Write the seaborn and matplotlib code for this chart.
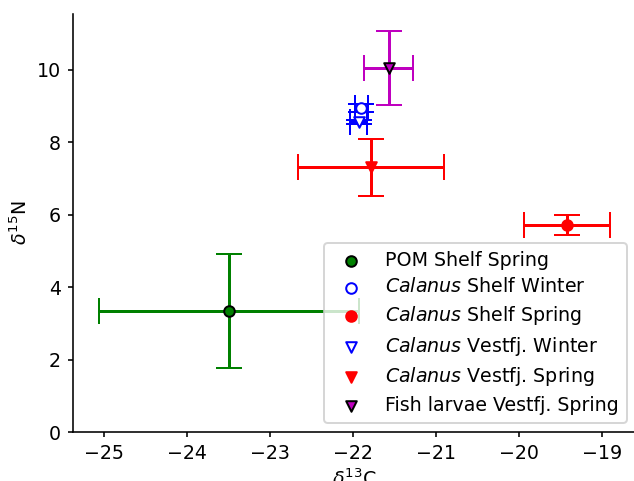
import matplotlib
matplotlib.use("Agg")
import matplotlib.pyplot as plt
import seaborn as sns
import pandas as pd

# Mean stable isotope values (δ13C, δ15N) with standard deviations
groups = [
    r"POM Shelf Spring",
    r"$\it{Calanus}$ Shelf Winter",
    r"$\it{Calanus}$ Shelf Spring",
    r"$\it{Calanus}$ Vestfj. Winter",
    r"$\it{Calanus}$ Vestfj. Spring",
    r"Fish larvae Vestfj. Spring",
]
d13c = [-23.49, -21.90, -19.42, -21.93, -21.78, -21.57]
d15n = [3.34, 8.95, 5.72, 8.57, 7.31, 10.05]
d13c_sd = [1.57, 0.08, 0.52, 0.10, 0.88, 0.30]
d15n_sd = [1.57, 0.10, 0.27, 0.06, 0.79, 1.03]

colors = ["g", "b", "r", "b", "r", "m"]
markers = ["o", "o", "o", "v", "v", "v"]
faces = ["g", "white", "r", "white", "r", "m"]
edges = ["k", "b", "r", "b", "r", "k"]

df = pd.DataFrame({"group": groups, "d13C": d13c, "d15N": d15n,
                   "sd13C": d13c_sd, "sd15N": d15n_sd})

plt.rcParams["font.family"] = ["DejaVu Sans"]
fs = 9.5
fig = plt.figure(figsize=(634 / 144, 481 / 144), dpi=144)
ax = fig.add_axes([73 / 634, 49 / 481, 563 / 634, 418 / 481])

for i, row in df.iterrows():
    ax.errorbar(row["d13C"], row["d15N"], xerr=row["sd13C"], yerr=row["sd15N"],
                fmt="none", ecolor=colors[i], elinewidth=1.5, capsize=6.5)
    sns.scatterplot(x=[row["d13C"]], y=[row["d15N"]], ax=ax, marker=markers[i],
                    s=28, color=faces[i], edgecolor=edges[i], linewidth=1,
                    label=row["group"], zorder=3)

ax.set_ylim(bottom=0)
ax.set_xlabel(r"$\delta^{13}$C", fontsize=fs, labelpad=3)
ax.set_ylabel(r"$\delta^{15}$N", fontsize=fs, labelpad=3)
ax.tick_params(labelsize=fs, length=2.5, width=0.8)
ax.legend(loc="lower right", fontsize=fs, labelspacing=0.4)
sns.despine(ax=ax)

fig.savefig("out.png", dpi=144)
